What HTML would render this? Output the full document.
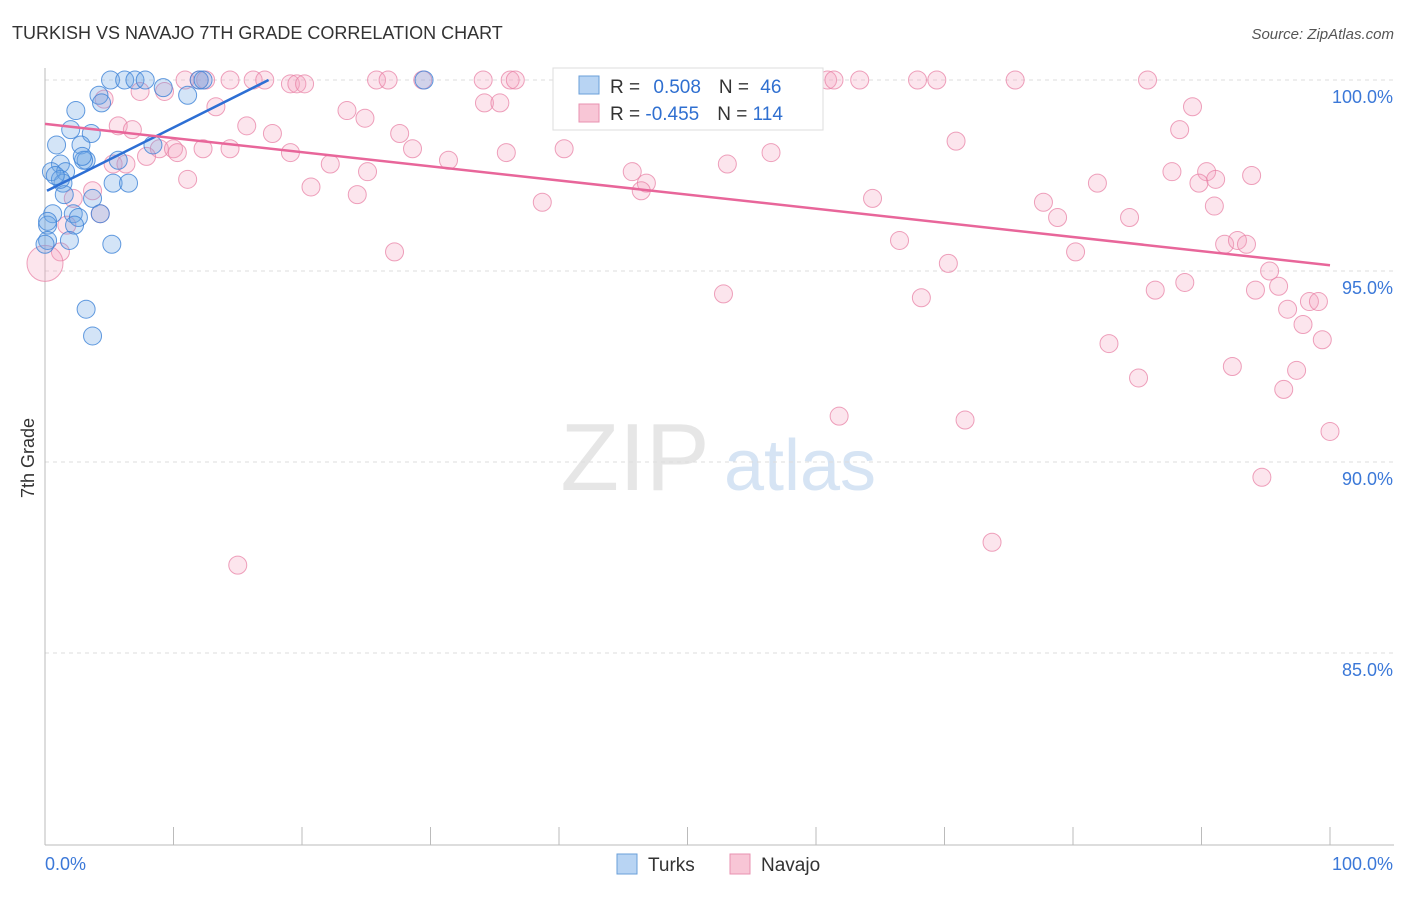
<!DOCTYPE html>
<html><head><meta charset="utf-8"><style>
body{margin:0;background:#fff;font-family:"Liberation Sans",sans-serif}
svg text{font-family:"Liberation Sans",sans-serif}
</style></head><body>
<svg id="c" width="1406" height="892">
<text x="12" y="39" font-size="18" fill="#333">TURKISH VS NAVAJO 7TH GRADE CORRELATION CHART</text>
<text x="1394" y="39" font-size="15" fill="#555" text-anchor="end" font-style="italic">Source: ZipAtlas.com</text>
<text x="34" y="458" font-size="18" fill="#333" transform="rotate(-90 34 458)" text-anchor="middle">7th Grade</text>
<g><text x="635" y="490" font-size="96" fill="#e6e6e6" font-family="Liberation Serif" text-anchor="middle">ZIP</text><text x="800" y="490" font-size="72" fill="#d6e4f4" text-anchor="middle">atlas</text></g>
<g id="grid"></g><g id="axes"></g><g id="pts"></g><g id="lines"></g>
<g>
<rect x="553" y="68" width="270" height="62" fill="#fff" stroke="#ddd"/>
<rect x="579" y="76" width="20" height="18" fill="#b8d4f3" stroke="#6a9fd8"/>
<rect x="579" y="104" width="20" height="18" fill="#f8c6d6" stroke="#e892b0"/>
<text x="610" y="93" font-size="19" fill="#333">R = <tspan fill="#2f6fd0" dx="8">0.508</tspan><tspan dx="18" fill="#333">N = </tspan><tspan fill="#2f6fd0" dx="6">46</tspan></text>
<text x="610" y="120" font-size="19" fill="#333">R = <tspan fill="#2f6fd0">-0.455</tspan><tspan dx="18" fill="#333">N = </tspan><tspan fill="#2f6fd0">114</tspan></text>
</g>
<g>
<rect x="617" y="854" width="20" height="20" fill="#b8d4f3" stroke="#6a9fd8"/>
<text x="648" y="871" font-size="19" fill="#333">Turks</text>
<rect x="730" y="854" width="20" height="20" fill="#f8c6d6" stroke="#e892b0"/>
<text x="761" y="871" font-size="19" fill="#333">Navajo</text>
</g>
</svg>
<script>
const yTicks=[100,95,90,85];
const yTickLabels=["100.0%","95.0%","90.0%","85.0%"];
const xTickLabels=["0.0%","100.0%"];
const turksX=[5.1,6.2,7.0,7.8,9.2,11.1,12.0,12.3,29.5,2.4,4.2,4.4,2.0,3.6,0.9,2.8,5.7,3.2,3.0,1.2,0.5,1.6,1.4,5.3,6.5,1.5,3.7,0.6,2.2,2.6,4.3,0.2,2.3,1.9,0.2,0,5.2,3.2,3.7,8.4,1.2,0.8,2.9,0.2];
const turksY=[100,100,100,100,99.8,99.6,100,100,100,99.2,99.6,99.4,98.7,98.6,98.3,98.3,97.9,97.9,97.9,97.8,97.6,97.6,97.3,97.3,97.3,97.0,96.9,96.5,96.5,96.4,96.5,96.2,96.2,95.8,95.8,95.7,95.7,94.0,93.3,98.3,97.4,97.5,98.0,96.3];
const navajoX=[10.9,12.0,12.5,14.4,16.2,17.1,25.8,26.7,29.4,34.1,36.2,36.6,41.6,44.7,47.9,52.5,58.8,60.9,61.4,63.4,67.9,69.4,75.5,85.8,
19.1,19.6,20.2,7.4,9.3,4.6,13.3,23.5,34.2,35.4,89.3,24.9,5.7,6.8,15.7,17.7,27.6,88.3,70.9,12.3,14.4,8.9,10.0,10.3,19.1,28.6,35.9,40.4,31.4,5.3,6.3,7.9,22.2,25.1,53.1,56.5,45.7,87.7,90.4,93.9,91.1,89.8,81.9,46.8,46.4,11.1,20.7,3.7,2.2,24.3,38.7,64.4,77.7,91.0,78.8,84.4,4.3,1.7,66.5,91.8,92.8,93.5,80.2,27.2,70.3,95.3,96.0,52.8,68.2,86.4,88.7,94.2,96.7,98.4,99.1,97.9,99.4,82.8,92.4,97.4,85.1,96.4,61.8,71.6,100,94.7,73.7,15.0,1.2,0];
const navajoY=[100,100,100,100,100,100,100,100,100,100,100,100,100,100,100,100,100,100,100,100,100,100,100,100,
99.9,99.9,99.9,99.7,99.7,99.5,99.3,99.2,99.4,99.4,99.3,99.0,98.8,98.7,98.8,98.6,98.6,98.7,98.4,98.2,98.2,98.2,98.2,98.1,98.1,98.2,98.1,98.2,97.9,97.8,97.8,98.0,97.8,97.6,97.8,98.1,97.6,97.6,97.6,97.5,97.4,97.3,97.3,97.3,97.1,97.4,97.2,97.1,96.9,97.0,96.8,96.9,96.8,96.7,96.4,96.4,96.5,96.2,95.8,95.7,95.8,95.7,95.5,95.5,95.2,95.0,94.6,94.4,94.3,94.5,94.7,94.5,94.0,94.2,94.2,93.6,93.2,93.1,92.5,92.4,92.2,91.9,91.2,91.1,90.8,89.6,87.9,87.3,95.5,95.2];
const turksLine=[[0,97.1],[17.4,100]];
const navajoLine=[[0,98.85],[100,95.15]];
const NS="http://www.w3.org/2000/svg";
const X=v=>45+v*12.85, Y=v=>80+(100-v)*38.2;
function mk(t,a,p){const e=document.createElementNS(NS,t);for(const k in a)e.setAttribute(k,a[k]);p.appendChild(e);return e;}
const grid=document.getElementById('grid'),axes=document.getElementById('axes'),pts=document.getElementById('pts'),lines=document.getElementById('lines');
yTicks.forEach((v,i)=>{
 const l=mk('line',{x1:45,x2:1394,y1:Y(v),y2:Y(v),stroke:'#ddd','stroke-dasharray':'4,4'},grid);
 
 
 const t=mk('text',{x:1393,y:Y(v)+23,'font-size':18,fill:'#3b78d8','text-anchor':'end'},axes);t.textContent=yTickLabels[i];
 
 
});
const ax=mk('line',{x1:45,x2:45,y1:68,y2:845,stroke:'#bbb'},axes);


const bx=mk('line',{x1:45,x2:1394,y1:845,y2:845,stroke:'#bbb'},axes);


for(let i=0;i<=10;i++){const t=mk('line',{x1:X(i*10),x2:X(i*10),y1:827,y2:845,stroke:'#bbb'},axes);
 
 }
const xl0=mk('text',{x:45,y:870,'font-size':18,fill:'#3b78d8'},axes);xl0.textContent=xTickLabels[0];


const xl1=mk('text',{x:1393,y:870,'font-size':18,fill:'#3b78d8','text-anchor':'end'},axes);xl1.textContent=xTickLabels[1];


navajoX.forEach((x,i)=>{const big=(i===navajoX.length-1);
 const c=mk('circle',{cx:X(x),cy:Y(navajoY[i]),r:big?18:9,fill:'rgba(244,160,190,0.28)',stroke:'rgba(232,130,165,0.75)','stroke-width':1},pts);
 
 });
turksX.forEach((x,i)=>{
 const c=mk('circle',{cx:X(x),cy:Y(turksY[i]),r:9,fill:'rgba(110,165,230,0.3)',stroke:'rgba(60,130,215,0.8)','stroke-width':1},pts);
 
 });
const tl=mk('line',{x1:X(turksLine[0][0])+2,y1:Y(turksLine[0][1]),x2:X(turksLine[1][0]),y2:Y(turksLine[1][1]),stroke:'#2d6fd4','stroke-width':2.5},lines);


const nl=mk('line',{x1:X(navajoLine[0][0]),y1:Y(navajoLine[0][1]),x2:X(navajoLine[1][0]),y2:Y(navajoLine[1][1]),stroke:'#e8669a','stroke-width':2.5},lines);


</script>
</body></html>
